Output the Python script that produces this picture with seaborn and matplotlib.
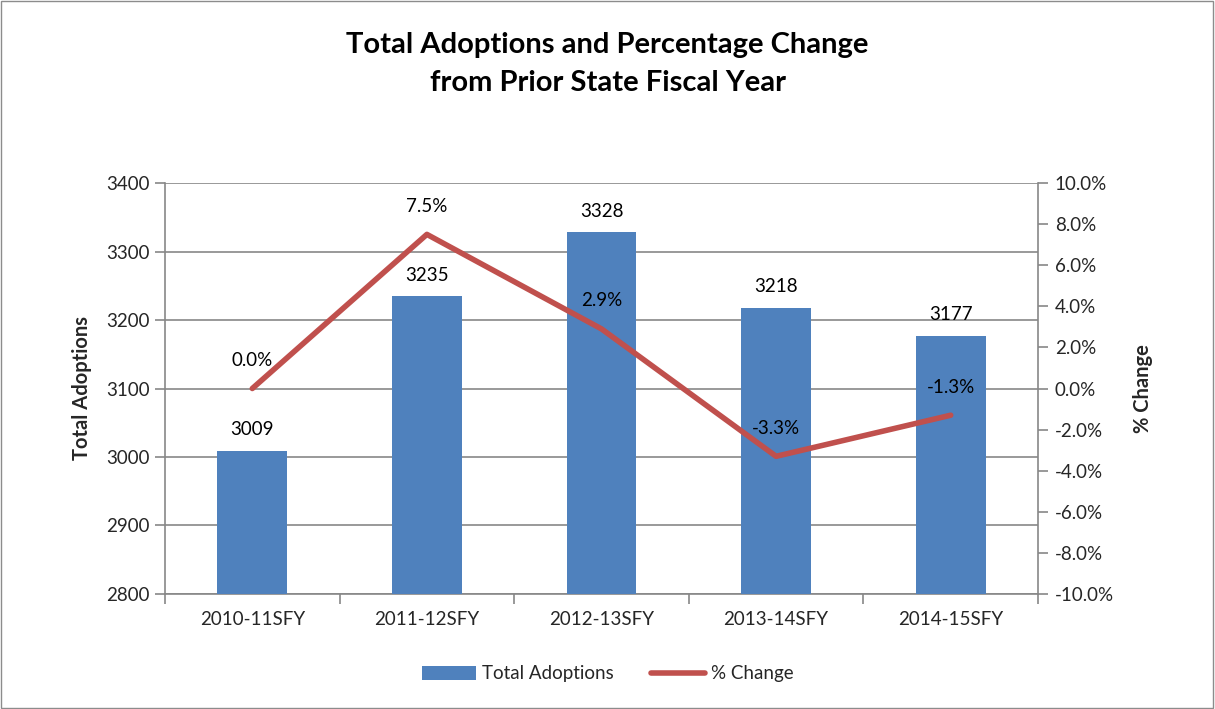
import matplotlib
matplotlib.use("Agg")
import matplotlib.pyplot as plt
import seaborn as sns
import pandas as pd
from matplotlib.ticker import FuncFormatter, MultipleLocator
from matplotlib.patches import Rectangle
from matplotlib.lines import Line2D
from matplotlib.patches import Patch

categories = ["2010-11SFY", "2011-12SFY", "2012-13SFY", "2013-14SFY", "2014-15SFY"]
total_adoptions = [3009, 3235, 3328, 3218, 3177]
pct_change = [0.0, 7.5, 2.9, -3.3, -1.3]

BAR_C = "#4F81BD"
LINE_C = "#C0504D"
GRID_C = "#878787"
FS = 13.5

sns.set_style("white")
plt.rcParams["font.family"] = ["Lato", "DejaVu Sans"]

df = pd.DataFrame({"cat": categories, "total": total_adoptions, "pct": pct_change})

fig = plt.figure(figsize=(12.15, 7.09), dpi=100)
ax = fig.add_axes([165/1215, 1-594/709, (1038-165)/1215, (594-183)/709])

sns.barplot(data=df, x="cat", y="total", color=BAR_C, width=0.4, ax=ax,
            saturation=1, edgecolor="none", zorder=3)
ax.set_ylim(2800, 3400)
ax.yaxis.set_major_locator(MultipleLocator(100))
ax.set_xlim(-0.5, len(categories)-0.5)
ax.grid(axis="y", color=GRID_C, linewidth=1.2, zorder=0)
ax.set_axisbelow(True)
for s in ["top", "right"]:
    ax.spines[s].set_visible(False)
for s in ["left", "bottom"]:
    ax.spines[s].set_color(GRID_C)
    ax.spines[s].set_linewidth(1.2)
ax.tick_params(axis="y", direction="out", length=7, color=GRID_C, width=1.2, labelsize=FS, pad=4, left=True)
ax.set_xticks(range(len(categories)))
ax.set_xticklabels(categories)
ax.tick_params(axis="x", length=0, labelsize=FS, pad=12)
ax.set_xticks([i + 0.5 for i in range(-1, len(categories))], minor=True)
ax.tick_params(axis="x", which="minor", direction="out", length=7, color=GRID_C, width=1.2, bottom=True)
ax.set_xlabel("")
ax.set_ylabel("Total Adoptions", fontsize=14.5, fontweight="bold", labelpad=10)

for i, v in enumerate(total_adoptions):
    ax.annotate(f"{v}", (i, v), xytext=(0, 9), textcoords="offset points",
                ha="center", va="bottom", fontsize=FS, color="black", zorder=5)

ax2 = ax.twinx()
sns.lineplot(data=df, x="cat", y="pct", color=LINE_C, linewidth=4, ax=ax2, zorder=4,
             sort=False)
ax2.set_ylim(-10, 10)
ax2.yaxis.set_major_locator(MultipleLocator(2))
ax2.yaxis.set_major_formatter(FuncFormatter(lambda v, p: f"{v:.1f}%"))
for s in ["top", "left", "bottom"]:
    ax2.spines[s].set_visible(False)
ax2.spines["right"].set_color(GRID_C)
ax2.spines["right"].set_linewidth(1.2)
ax2.tick_params(axis="y", direction="out", length=7, color=GRID_C, width=1.2, labelsize=FS, pad=5, right=True)
ax2.set_ylabel("% Change", fontsize=14.5, fontweight="bold", labelpad=14)
ax2.set_xlabel("")
ax2.set_xlim(-0.5, len(categories)-0.5)

for i, v in enumerate(pct_change):
    ax2.annotate(f"{v:.1f}%", (i, v), xytext=(0, 14), textcoords="offset points",
                 ha="center", va="bottom", fontsize=FS, color="black", zorder=6)

handles = [Patch(facecolor=BAR_C, edgecolor="none"),
           Line2D([0], [0], color=LINE_C, linewidth=4)]
fig.legend(handles, ["Total Adoptions", "% Change"], loc="center",
           bbox_to_anchor=(0.5, 1-674/709), ncol=2, frameon=False, fontsize=FS,
           handlelength=2.9, handleheight=0.8, columnspacing=2.0, handletextpad=0.3)

fig.text(0.5, 1-45/709, "Total Adoptions and Percentage Change", ha="center", va="center",
         fontsize=21, fontweight="bold", color="black")
fig.text(0.5, 1-83/709, "from Prior State Fiscal Year", ha="center", va="center",
         fontsize=21, fontweight="bold", color="black")

fig.patches.append(Rectangle((0.001, 0.001), 0.997, 0.997, transform=fig.transFigure,
                             fill=False, edgecolor="#8C8C8C", linewidth=1))

fig.savefig("out.png", dpi=100)
